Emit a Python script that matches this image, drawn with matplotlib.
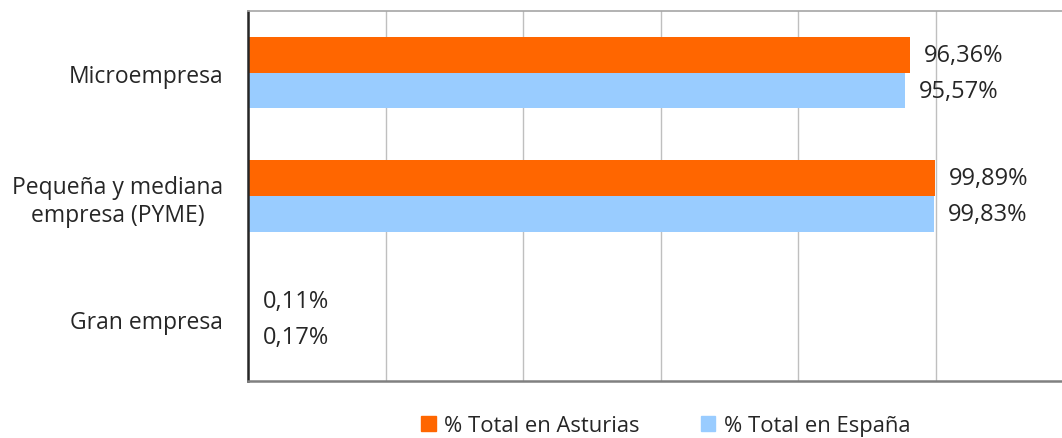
import matplotlib
matplotlib.use("Agg")
import matplotlib.pyplot as plt
from matplotlib.patches import Patch
import numpy as np

categories = ["Microempresa", "Pequeña y mediana\nempresa (PYME)", "Gran empresa"]
asturias = [96.36, 99.89, 0.11]
espana = [95.57, 99.83, 0.17]
series_names = ["% Total en Asturias", "% Total en España"]
colors = ["#FF6600", "#99CCFF"]

plt.rcParams['font.family'] = ['Open Sans', 'DejaVu Sans']
FS_Y = 16.5
FS_V = 17
FS_L = 15.8

fig = plt.figure(figsize=(10.62, 4.39), dpi=100)
ax = fig.add_axes([248/1062, 1-382/439, (1073-248)/1062, (382-12)/439])

y = np.arange(len(categories))
h = 0.29
b1 = ax.barh(y - h/2, asturias, height=h, color=colors[0])
b2 = ax.barh(y + h/2, espana, height=h, color=colors[1])

def fmt(v):
    return f"{v:.2f}".replace(".", ",") + "%"

for bars, vals in ((b1, asturias), (b2, espana)):
    for bar, v in zip(bars, vals):
        ax.annotate(fmt(v), xy=(bar.get_width(), bar.get_y() + bar.get_height()/2),
                    xytext=(10, 0), textcoords="offset points",
                    ha="left", va="center", fontsize=FS_V, color="#262626")

ax.set_xlim(0, 120)
ax.set_ylim(2.5, -0.5)
ax.set_xticks(np.arange(0, 121, 20))
ax.set_xticklabels([])
ax.set_yticks(y)
ax.set_yticklabels(categories, fontsize=FS_Y, color="#262626", multialignment="center",
                   linespacing=1.25)
ax.tick_params(axis="both", length=0, pad=18)
ax.grid(axis="x", color="#BFBFBF", linewidth=1)
ax.set_axisbelow(True)
ax.spines["left"].set_color("#262626")
ax.spines["left"].set_linewidth(1.8)
ax.spines["bottom"].set_color("#808080")
ax.spines["bottom"].set_linewidth(1.8)
ax.spines["top"].set_color("#A6A6A6")
ax.spines["top"].set_linewidth(1.2)
ax.spines["right"].set_visible(False)

handles = [Patch(color=c) for c in colors]
fig.legend(handles, series_names, loc="center", bbox_to_anchor=(666/1062, 1-427/439),
           ncol=2, frameon=False, fontsize=FS_L, handlelength=0.65, handleheight=0.65,
           handletextpad=0.4, columnspacing=2.8, labelcolor="#262626")

fig.savefig("out.png", dpi=100)
